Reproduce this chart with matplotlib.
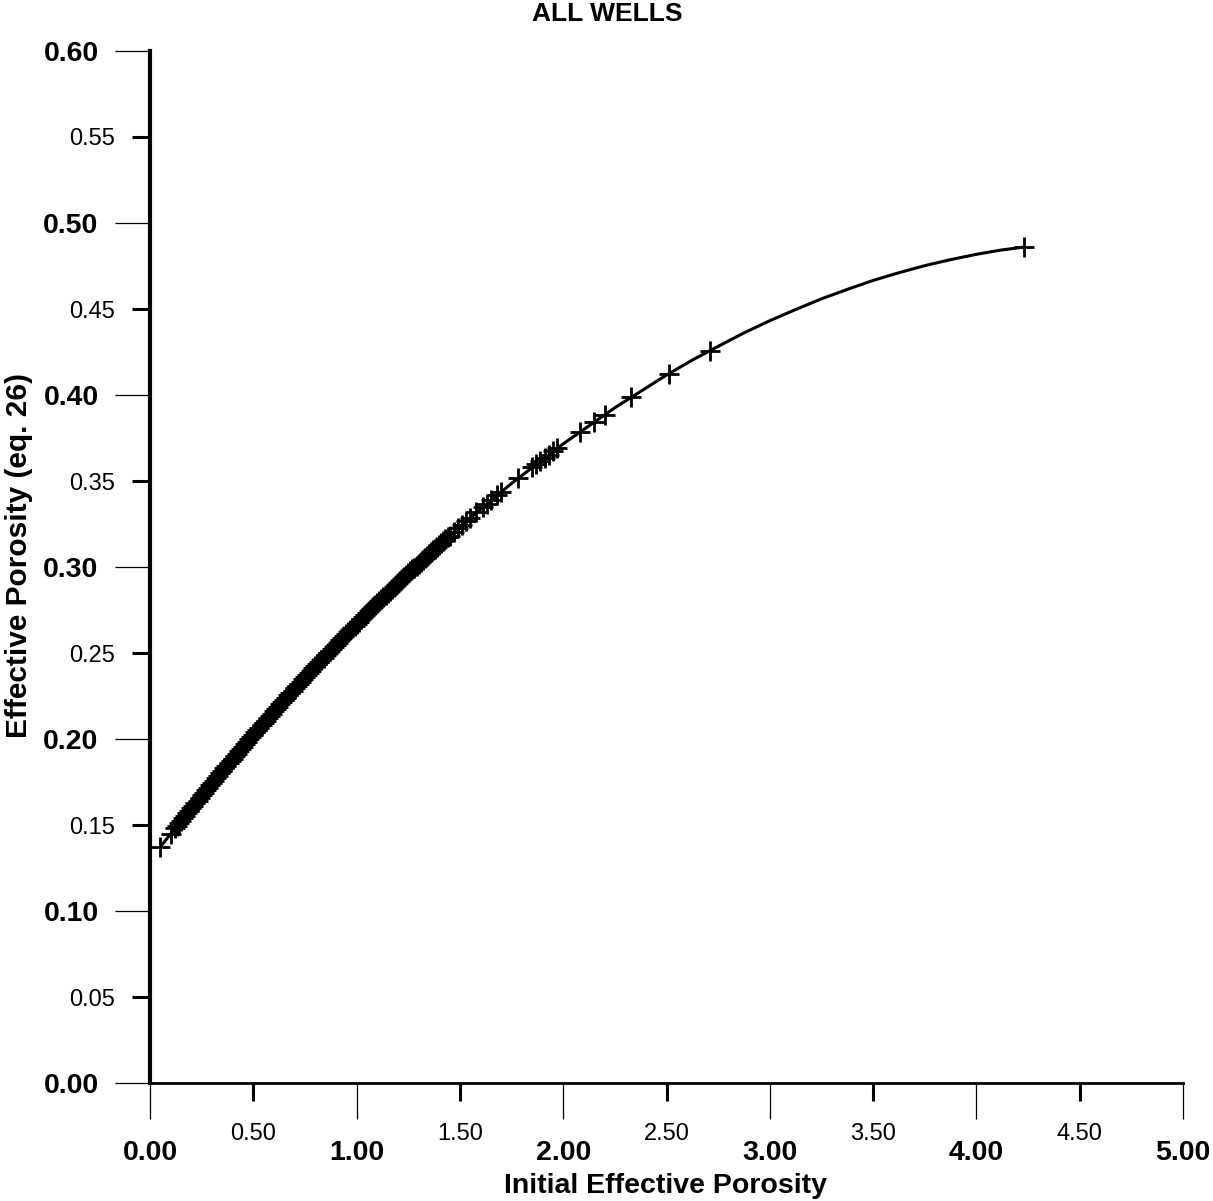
import matplotlib
matplotlib.use("Agg")
import matplotlib.pyplot as plt
from matplotlib.ticker import FixedLocator, FormatStrFormatter

plt.rcParams['font.family'] = ['Liberation Sans', 'DejaVu Sans']

# ---- data ----
title = "ALL WELLS"
x_label = "Initial Effective Porosity"
y_label = "Effective Porosity (eq. 26)"

# fitted curve drawn through the points
curve_x = [0.05, 0.25, 0.50, 0.75, 1.00, 1.25, 1.50, 1.75, 2.00, 2.25, 2.50,
           2.625, 2.75, 2.875, 3.00, 3.125, 3.25, 3.375, 3.50, 3.625, 3.75,
           3.875, 4.00, 4.115, 4.23]
curve_y = [0.1373, 0.1672, 0.2025, 0.2358, 0.2671, 0.2964, 0.3235, 0.3486,
           0.3716, 0.3926, 0.4116, 0.4203, 0.4283, 0.4361, 0.4432, 0.4497,
           0.4559, 0.4614, 0.4666, 0.4711, 0.4752, 0.4787, 0.4818, 0.4842,
           0.4860]

# individual sample points (+ markers)
pts_x = [0.05, 0.10, 0.12, 0.13, 0.14, 0.15, 0.16,
         0.17, 0.18, 0.19, 0.20, 0.21, 0.22, 0.23, 0.24, 0.25, 0.26, 0.27, 0.28, 0.29,
         0.30, 0.31, 0.32, 0.33, 0.34, 0.35, 0.36, 0.37, 0.38, 0.39,
         0.40, 0.41, 0.42, 0.43, 0.44, 0.45, 0.46, 0.47, 0.48, 0.49,
         0.50, 0.51, 0.52, 0.53, 0.54, 0.55, 0.56, 0.57, 0.58, 0.59,
         0.60, 0.61, 0.62, 0.63, 0.64, 0.65, 0.66, 0.67, 0.68, 0.69,
         0.70, 0.71, 0.72, 0.73, 0.74, 0.75, 0.76, 0.77, 0.78, 0.79,
         0.80, 0.81, 0.82, 0.83, 0.84, 0.85, 0.86, 0.87, 0.88, 0.89,
         0.90, 0.91, 0.92, 0.93, 0.94, 0.95, 0.96, 0.97, 0.98, 0.99,
         1.00, 1.01, 1.02, 1.03, 1.04, 1.05, 1.06, 1.07, 1.08, 1.09,
         1.10, 1.11, 1.12, 1.13, 1.14, 1.15, 1.16, 1.17, 1.18, 1.19,
         1.20, 1.21, 1.22, 1.23, 1.24, 1.25, 1.26, 1.27, 1.28, 1.29,
         1.30, 1.31, 1.32, 1.33, 1.34, 1.35, 1.36, 1.37, 1.38, 1.39,
         1.40, 1.41, 1.42, 1.43, 1.44, 1.45, 1.47, 1.49, 1.51, 1.53, 1.55,
         1.58, 1.61, 1.63, 1.65, 1.68, 1.70, 1.78, 1.85, 1.87, 1.89, 1.91,
         1.93, 1.95, 1.97, 2.08, 2.15, 2.20, 2.33, 2.51, 2.71, 4.23]
pts_y = [0.1371, 0.1449, 0.1480, 0.1494, 0.1509, 0.1524, 0.1539,
         0.1554, 0.1568, 0.1583, 0.1598, 0.1613, 0.1628, 0.1642, 0.1657, 0.1672, 0.1686, 0.1701, 0.1715, 0.1730,
         0.1744, 0.1758, 0.1773, 0.1787, 0.1801, 0.1816, 0.1830, 0.1844, 0.1858, 0.1872,
         0.1886, 0.1900, 0.1914, 0.1928, 0.1942, 0.1956, 0.1970, 0.1984, 0.1998, 0.2011,
         0.2025, 0.2039, 0.2053, 0.2066, 0.2080, 0.2094, 0.2107, 0.2121, 0.2134, 0.2148,
         0.2161, 0.2174, 0.2188, 0.2201, 0.2214, 0.2228, 0.2241, 0.2254, 0.2267, 0.2281,
         0.2294, 0.2307, 0.2320, 0.2333, 0.2346, 0.2359, 0.2371, 0.2384, 0.2397, 0.2410,
         0.2423, 0.2435, 0.2448, 0.2461, 0.2473, 0.2486, 0.2499, 0.2511, 0.2524, 0.2536,
         0.2549, 0.2561, 0.2573, 0.2586, 0.2598, 0.2610, 0.2623, 0.2635, 0.2647, 0.2659,
         0.2671, 0.2683, 0.2695, 0.2707, 0.2719, 0.2731, 0.2743, 0.2755, 0.2767, 0.2779,
         0.2791, 0.2802, 0.2814, 0.2826, 0.2837, 0.2849, 0.2861, 0.2872, 0.2884, 0.2895,
         0.2907, 0.2918, 0.2929, 0.2941, 0.2952, 0.2963, 0.2974, 0.2986, 0.2997, 0.3008,
         0.3019, 0.3030, 0.3041, 0.3052, 0.3063, 0.3075, 0.3085, 0.3096, 0.3107, 0.3118,
         0.3129, 0.3139, 0.3150, 0.3161, 0.3172, 0.3182, 0.3203, 0.3224, 0.3245, 0.3266, 0.3287,
         0.3318, 0.3348, 0.3368, 0.3388, 0.3418, 0.3437, 0.3515, 0.3581, 0.3599, 0.3617, 0.3636,
         0.3654, 0.3672, 0.3690, 0.3786, 0.3845, 0.3886, 0.3989, 0.4122, 0.4258, 0.4860]

x_major = [0.0, 1.0, 2.0, 3.0, 4.0, 5.0]
x_minor = [0.5, 1.5, 2.5, 3.5, 4.5]
y_major = [0.0, 0.1, 0.2, 0.3, 0.4, 0.5, 0.6]
y_minor = [0.05, 0.15, 0.25, 0.35, 0.45, 0.55]

# ---- figure ----
W, H = 1213, 1201
fig = plt.figure(figsize=(W / 100, H / 100), dpi=100)
ax = fig.add_axes([150 / W, 1 - 1083 / H, (1183 - 150) / W, (1083 - 51) / H])

ax.plot(curve_x, curve_y, color='black', lw=2.2, zorder=2, clip_on=False)
ax.plot(pts_x, pts_y, linestyle='none', marker='+', ms=15, mew=2.0,
        color='black', zorder=3, clip_on=False)

ax.set_xlim(0, 5)
ax.set_ylim(0, 0.6)

for s in ('top', 'right'):
    ax.spines[s].set_visible(False)
ax.spines['left'].set_linewidth(3.0)
ax.spines['bottom'].set_linewidth(2.0)

ax.xaxis.set_major_locator(FixedLocator(x_major))
ax.xaxis.set_minor_locator(FixedLocator(x_minor))
ax.yaxis.set_major_locator(FixedLocator(y_major))
ax.yaxis.set_minor_locator(FixedLocator(y_minor))
fmt = FormatStrFormatter('%.2f')
ax.xaxis.set_major_formatter(fmt)
ax.xaxis.set_minor_formatter(fmt)
ax.yaxis.set_major_formatter(fmt)
ax.yaxis.set_minor_formatter(fmt)

ax.tick_params(axis='x', which='major', direction='out', length=26, width=0.9,
               pad=15, labelsize=20.5, colors='black')
ax.tick_params(axis='x', which='minor', direction='out', length=13, width=2.2,
               pad=16, labelsize=17, colors='black')
ax.tick_params(axis='y', which='major', direction='out', length=25, width=0.9,
               pad=12, labelsize=20.5, colors='black')
ax.tick_params(axis='y', which='minor', direction='out', length=13, width=2.2,
               pad=12, labelsize=17, colors='black')
for lab in ax.get_xticklabels(which='major') + ax.get_yticklabels(which='major'):
    lab.set_fontweight('bold')

fig.text(607 / W, 1 - 14 / H, title, ha='center', va='center',
         fontsize=19, fontweight='bold')
fig.text(666 / W, 8 / H, x_label, ha='center', va='baseline',
         fontsize=20.5, fontweight='bold')
fig.text(5 / W, 1 - 556 / H, y_label, ha='left', va='center', rotation=90,
         fontsize=21.5, fontweight='bold')

fig.savefig('out.png', dpi=100, facecolor='white')
